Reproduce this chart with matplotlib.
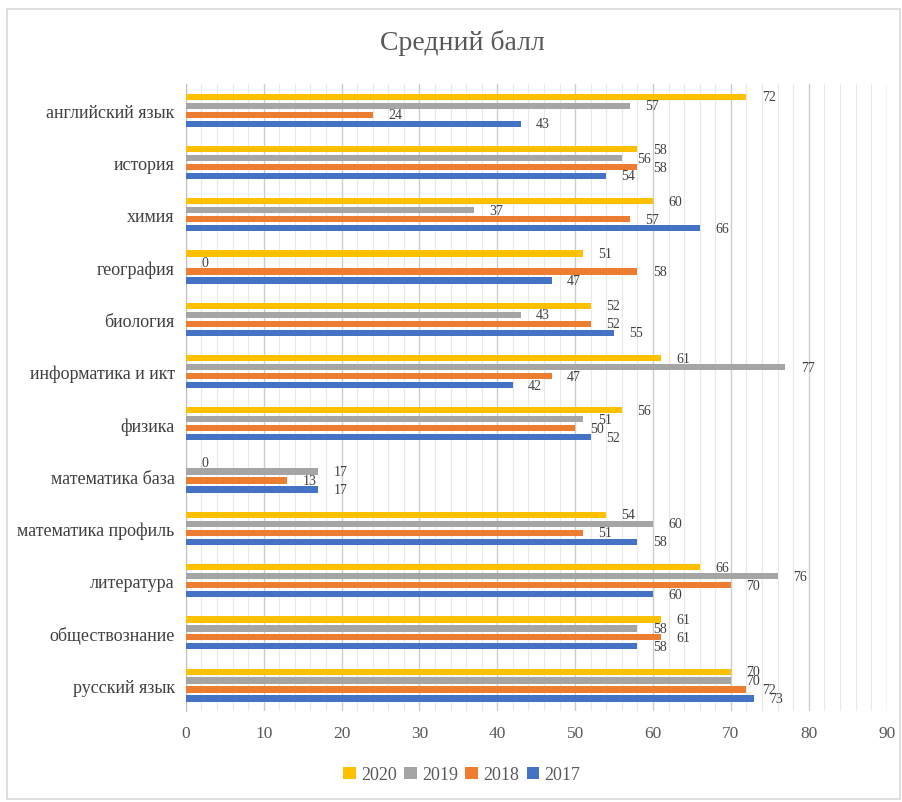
import matplotlib
matplotlib.use("Agg")
import matplotlib.pyplot as plt
from matplotlib.patches import Rectangle
from matplotlib.ticker import MultipleLocator
import numpy as np

plt.rcParams['font.family'] = ['Liberation Serif', 'DejaVu Serif']

# categories, bottom to top
subjects = ["русский язык", "обществознание", "литература", "математика профиль",
            "математика база", "физика", "информатика и икт", "биология",
            "география", "химия", "история", "английский язык"]

y2020 = [70, 61, 66, 54, 0, 56, 61, 52, 51, 60, 58, 72]
y2019 = [70, 58, 76, 60, 17, 51, 77, 43, 0, 37, 56, 57]
y2018 = [72, 61, 70, 51, 13, 50, 47, 52, 58, 57, 58, 24]
y2017 = [73, 58, 60, 58, 17, 52, 42, 55, 47, 66, 54, 43]

years = ["2020", "2019", "2018", "2017"]
series = [y2020, y2019, y2018, y2017]
colors = ["#FFC000", "#A5A5A5", "#ED7D31", "#4472C4"]

fig = plt.figure(figsize=(9.02, 8.03), dpi=100)
ax = fig.add_axes([0.206, 0.113, 0.777, 0.781])

# outer chart frame
fig.patches.append(Rectangle((0.008, 0.004), 0.99, 0.983, transform=fig.transFigure,
                             fill=False, edgecolor="#D9D9D9", linewidth=1.2))

pos = np.arange(len(subjects))
step = 0.172
h = 0.12
offsets = [1.5 * step, 0.5 * step, -0.5 * step, -1.5 * step]

for vals, col, off, yr in zip(series, colors, offsets, years):
    bars = ax.barh(pos + off, vals, height=h, color=col, label=yr, zorder=3)
    for b, v in zip(bars, vals):
        ax.annotate(str(v), (v, b.get_y() + h / 2), xytext=(11, 0),
                    textcoords="offset points", ha="left", va="center",
                    fontsize=10, color="#404040")

ax.set_xlim(0, 90)
ax.set_ylim(-0.5, len(subjects) - 0.5)
ax.set_yticks(pos)
ax.set_yticklabels(subjects, fontsize=13, color="#404040")
ax.xaxis.set_major_locator(MultipleLocator(10))
ax.xaxis.set_minor_locator(MultipleLocator(2))
ax.tick_params(axis="x", labelsize=12.5, colors="#595959", length=0, which="both", pad=10)
ax.tick_params(axis="y", length=0, pad=8)
ax.grid(axis="x", which="major", color="#CCCCCC", linewidth=1, zorder=0)
ax.grid(axis="x", which="minor", color="#E8E8E8", linewidth=0.8, zorder=0)
for s in ["top", "right", "bottom"]:
    ax.spines[s].set_visible(False)
ax.spines["left"].set_color("#BFBFBF")

fig.text(0.513, 0.947, "Средний балл", ha="center", va="center",
         fontsize=20, color="#595959")

fig.legend(loc="lower center", bbox_to_anchor=(0.512, 0.003), ncol=4, frameon=False,
           fontsize=13, handlelength=0.7, handleheight=0.7, handletextpad=0.3,
           columnspacing=0.4, labelcolor="#595959")

fig.savefig("out.png", dpi=100)
